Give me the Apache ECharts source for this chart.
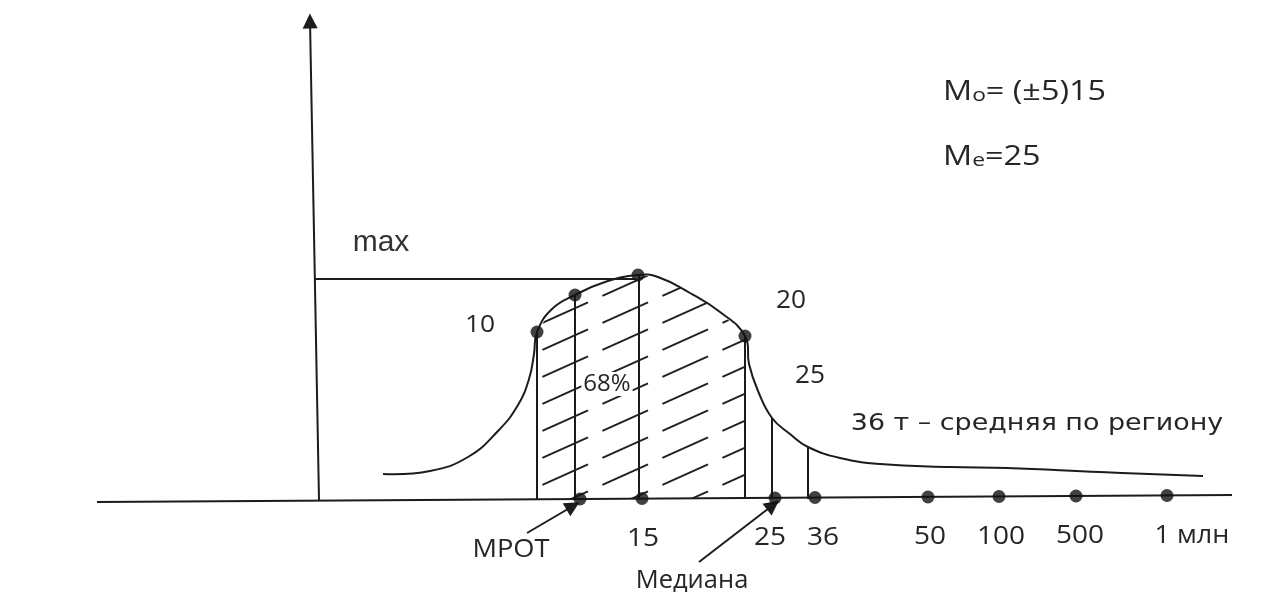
<!DOCTYPE html>
<html><head><meta charset="utf-8">
<script src="https://cdn.jsdelivr.net/npm/echarts/dist/echarts.min.js"></script>
<style>html,body{margin:0;padding:0;background:#fff}#c{width:1279px;height:592px}</style>
</head><body><div id="c"></div>
<script>
// ---- data (x: drawing units along the axis, y: height above the base line)
const curveX = [383,430,468,498,518,529,534,537,552,575,605,638,658,690,720,745,749,758,772,790,808,840,880,950,1007,1100,1203];
const curveY = [25,28,42,68,94,120,145,167,190,204,217,224,222,206,187,163,135,108,81,65,52,41,35,32,31,27,23];
const curveDotX = [537,575,638,745];
const curveDotY = [167,204,224,163];
const dropX   = [537,575,639,745,772,808];
const dropTop = [167,204,224,163,81,52];
const tickX = [580,642,775,815,928,999,1076,1167];
const tickY = [0,0.5,1,1.5,2,2.5,3,3.5];
const tickLabels = ['МРОТ','15','25','36','50','100','500','1 млн'];
const hatchFrom = 537, hatchTo = 745;
const maxLevel = 220;
const maxLineEnd = 636;
const baseLine = [[97,-3],[1232,4]];
const yAxisLine = [[319,-1],[310,478]];
const pointerMROT = [[527,-34],[573,-7]];
const pointerMedian = [[699,-63],[773,-6]];
const curvePointLabels = ['10','20','25'];
const shareLabel = '68%';
const meanLabel = '36 т – средняя по региону';

const ink = '#1c1c1c', txt = '#262626';
const curve = curveX.map((x,i)=>[x,curveY[i]]);
const hatchPart = curve.filter(p=>p[0]>=hatchFrom && p[0]<=hatchTo);

// hatch pattern (dashed diagonal strokes)
const TW = 60, TH = 27;
const pc = document.createElement('canvas'); pc.width = TW; pc.height = TH;
const g = pc.getContext('2d'); g.strokeStyle = '#222'; g.lineWidth = 2;
g.beginPath(); g.moveTo(TW*0.04, TH*(1-0.04)); g.lineTo(TW*0.8, TH*(1-0.8)); g.stroke();

const chart = echarts.init(document.getElementById('c'), null, {renderer:'canvas'});
const axisXAtMax = yAxisLine[0][0]-(yAxisLine[0][0]-yAxisLine[1][0])*(maxLevel-yAxisLine[0][1])/(yAxisLine[1][1]-yAxisLine[0][1]);
const plainLines = [
  {coords: baseLine},
  {coords: [[axisXAtMax, maxLevel],[maxLineEnd, maxLevel]]},
].concat(dropX.map((x,i)=>({coords:[[x,dropTop[i]],[x,tickY[0]]]})));

chart.setOption({
  animation:false,
  backgroundColor:'#fff',
  grid:{left:0,right:0,top:0,bottom:0},
  xAxis:{type:'value',min:0,max:1279,show:false},
  yAxis:{type:'value',min:-93,max:499,show:false},
  series:[
    {type:'line',data:hatchPart,smooth:false,symbol:'none',lineStyle:{width:0},
     areaStyle:{color:{image:pc,repeat:'repeat'},opacity:1},z:1,silent:true},
    {type:'custom',coordinateSystem:'cartesian2d',data:curve,z:3,silent:true,
     renderItem:function(params, api){
       if (params.dataIndex !== 0) return null;
       return {type:'polyline',silent:true,
         shape:{points:curve.map(p=>api.coord(p)),smooth:0.45},
         style:{stroke:ink,lineWidth:2,fill:null}};
     }},
    {type:'lines',coordinateSystem:'cartesian2d',data:plainLines,symbol:'none',
     lineStyle:{color:ink,width:2,opacity:1},z:2,silent:true},
    {type:'lines',coordinateSystem:'cartesian2d',data:[{coords:yAxisLine},{coords:pointerMROT},{coords:pointerMedian}],
     symbol:['none','triangle'],symbolSize:15,lineStyle:{color:ink,width:2,opacity:1},z:4,silent:true},
    {type:'scatter',data:curveDotX.map((x,i)=>[x,curveDotY[i]]).concat(tickX.map((x,i)=>[x,tickY[i]])),
     symbolSize:13,itemStyle:{color:'#111'},z:5,silent:true}
  ]
});

const W = '500 ';
function T(text, x, y, font, sx, extra){
  return Object.assign({type:'text',x:x,y:y,scaleX:sx||1,z:100,silent:true,
    style:Object.assign({text:text,font:font,fill:txt,textAlign:'center',textVerticalAlign:'middle',align:'center',verticalAlign:'middle'},extra||{})});
}
const tickOffsets = [[-69,51],[1,40],[-5,40],[8,40],[2,40],[2,40],[4,40],[25,40]];
const tickScale = [1.09,1.12,1.12,1.12,1.12,1.12,1.12,1.08];
const graphics = tickLabels.map((l,i)=>{
  const p = chart.convertToPixel({gridIndex:0},[tickX[i],tickY[i]]);
  return T(l, p[0]+tickOffsets[i][0], p[1]+tickOffsets[i][1], W+'25px "Open Sans"', tickScale[i]);
});
graphics.push(T('Медиана',692,581,W+'25px "Open Sans"',1.02));
graphics.push(T('max',381,243,'30px "Liberation Sans"',1,{fill:'#333'}));
graphics.push(T(curvePointLabels[0],480,325,W+'24px "Open Sans"',1.1));
graphics.push(T(curvePointLabels[1],791,301,W+'25px "Open Sans"',1.05));
graphics.push(T(curvePointLabels[2],810,376,W+'25px "Open Sans"',1.05));
graphics.push(T(shareLabel,607,384,W+'24px "Open Sans"',1.0,{backgroundColor:'#fff',padding:[0,2]}));
graphics.push(T(meanLabel,1037,424,'23px "DejaVu Sans"',1.17));
const rich = {m:{fontSize:27,fontWeight:500,fontFamily:'Open Sans',fill:txt,color:txt},s:{fontSize:19,fontWeight:500,fontFamily:'Open Sans',fill:txt,color:txt,verticalAlign:'bottom'}};
graphics.push({type:'text',x:943,y:92,scaleX:1.2,z:100,silent:true,
  style:{text:'{m|M}{s|o}{m|= (±5)15}',fill:txt,textAlign:'left',align:'left',textVerticalAlign:'middle',verticalAlign:'middle',rich:rich}});
graphics.push({type:'text',x:943,y:157,scaleX:1.2,z:100,silent:true,
  style:{text:'{m|M}{s|e}{m|=25}',fill:txt,textAlign:'left',align:'left',textVerticalAlign:'middle',verticalAlign:'middle',rich:rich}});
chart.setOption({graphic:{elements:graphics}});
</script></body></html>
